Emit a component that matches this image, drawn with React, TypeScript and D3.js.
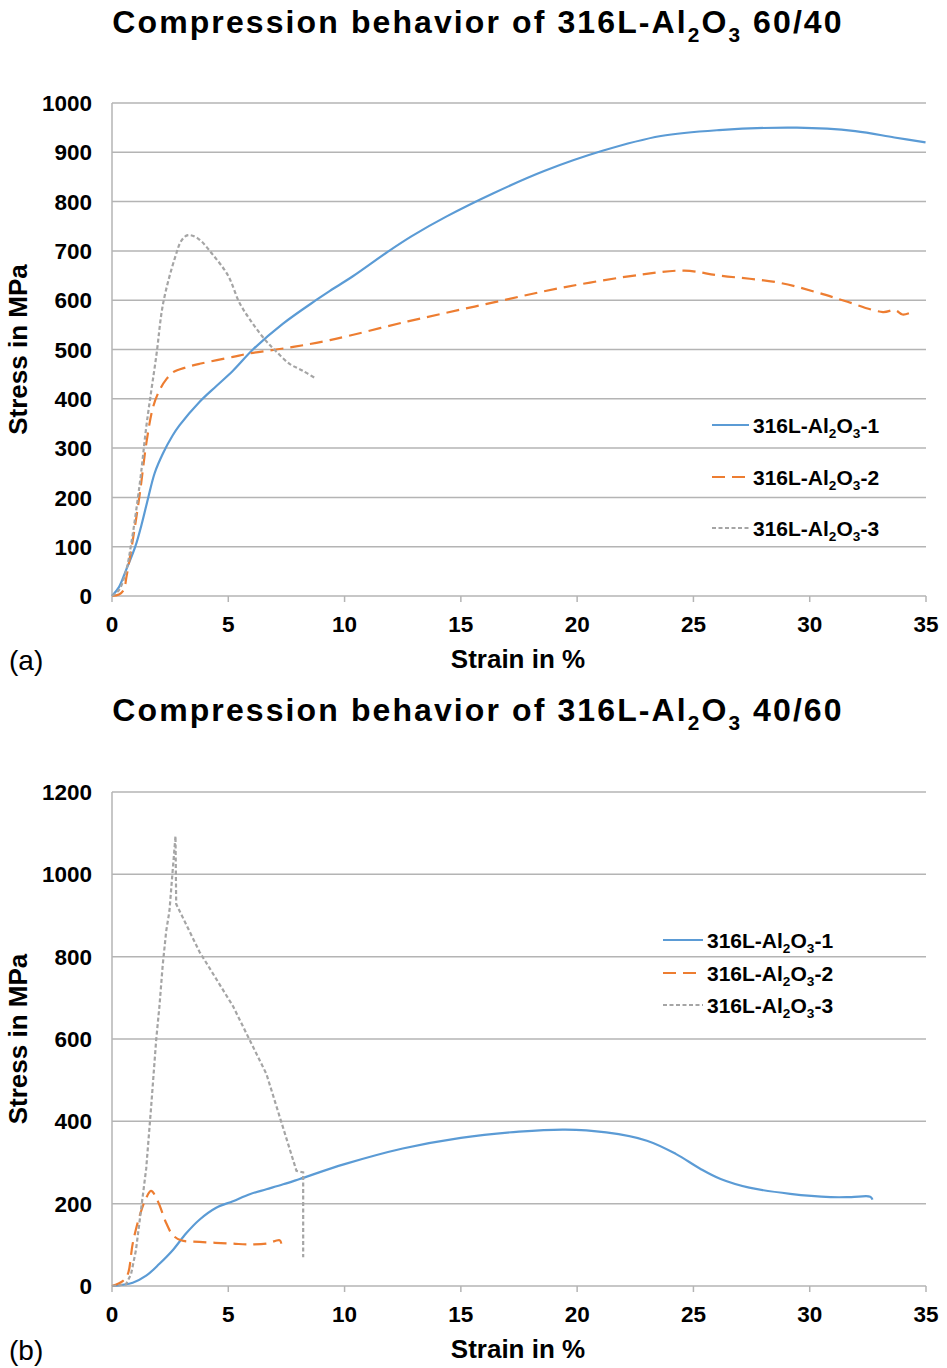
import React from "react";
import * as d3 from "d3";

// ---------- Data: panel (a) 316L-Al2O3 60/40 ----------
const aS1x = [0, 0.3, 0.6, 1.0, 1.3, 1.56, 1.84, 2.2, 2.6, 2.9, 3.77, 4.49, 5.2, 6.06, 7.34, 8.77, 9.37, 10.34, 11.88, 12.89, 14.39, 16.4, 18.58, 21.09, 23.6, 26.1, 29.45, 31.96, 33.64, 34.98];
const aS1y = [0, 18, 52, 100, 150, 200, 250, 290, 325, 346, 394, 426, 457, 500, 552, 600, 619, 648, 699, 730, 770, 817, 862, 903, 933, 945, 950, 943, 930, 920];

const aS2x = [0, 0.3, 0.5, 0.63, 0.91, 1.2, 1.49, 1.77, 2.06, 2.34, 2.63, 3.2, 3.77, 5.2, 5.91, 7.5, 9.37, 12.72, 16.07, 19.42, 22.77, 24.61, 26.12, 28.63, 30.3, 31.48, 33.15, 33.66, 33.99, 34.3];
const aS2y = [0, 3, 12, 41, 118, 209, 314, 384, 419, 440, 454, 464, 471, 485, 492, 503, 519, 557, 592, 626, 652, 660, 650, 636, 616, 599, 576, 580, 571, 574];

const aS3x = [0, 0.3, 0.6, 0.84, 1.2, 1.49, 1.91, 2.2, 2.7, 3.0, 3.27, 3.7, 4.34, 4.99, 5.49, 6.06, 6.63, 7.06, 7.63, 8.2, 8.7];
const aS3y = [0, 12, 50, 110, 230, 349, 489, 594, 685, 722, 732, 725, 692, 650, 594, 552, 517, 496, 471, 457, 443];

// ---------- Data: panel (b) 316L-Al2O3 40/60 ----------
const bS1x = [0, 0.89, 1.47, 2.04, 2.61, 3.19, 3.76, 4.48, 5.2, 5.92, 6.64, 7.36, 8.07, 10, 12.5, 15, 17.5, 19.49, 21.25, 23.0, 24.24, 25.29, 26.17, 27.4, 29.16, 30.9, 31.79, 32.6, 32.7];
const bS1y = [0, 8, 25, 54, 87, 128, 161, 190, 206, 223, 235, 247, 260, 296, 334, 360, 375, 380, 373, 353, 321, 285, 260, 239, 224, 216, 216, 217, 210];

const bS2x = [0, 0.46, 0.68, 0.89, 1.18, 1.47, 1.68, 1.97, 2.33, 2.61, 2.97, 3.76, 5.2, 5.78, 6.64, 7.21, 7.28];
const bS2y = [0, 12, 29, 103, 169, 214, 231, 206, 153, 124, 111, 107, 103, 101, 103, 111, 103];

const bS3x = [0, 0.6, 0.82, 1.03, 1.25, 1.47, 1.68, 1.9, 2.04, 2.18, 2.33, 2.47, 2.61, 2.73, 2.76, 3.76, 5.2, 6.64, 7.93, 8.22, 8.22];
const bS3y = [0, 4, 29, 87, 186, 285, 433, 598, 680, 779, 862, 911, 1010, 1093, 928, 812, 680, 515, 280, 276, 70];

const xTicks = [0, 5, 10, 15, 20, 25, 30, 35];
const aYTicks = [0, 100, 200, 300, 400, 500, 600, 700, 800, 900, 1000];
const bYTicks = [0, 200, 400, 600, 800, 1000, 1200];
const seriesSuffix = ["1", "2", "3"];
const titles = ["60/40", "40/60"];
const panelLabels = ["(a)", "(b)"];

const COLORS = ["#5B9BD5", "#ED7D31", "#A5A5A5"];
const DASH = ["none", "13 7", "4 2.5"];
const FONT = "'Liberation Sans', Arial, sans-serif";
const GRID = "#B4B4B4";

type SeriesDef = { x: number[]; y: number[]; linear?: boolean };

function AlLabel({ prefix, suffix, size }: { prefix: string; suffix: string; size: number }) {
  const sub = size * 0.65;
  const d = size * 0.28;
  return (
    <>
      <tspan>{prefix}</tspan>
      <tspan dy={d} fontSize={sub}>2</tspan>
      <tspan dy={-d}>O</tspan>
      <tspan dy={d} fontSize={sub}>3</tspan>
      <tspan dy={-d}>{suffix}</tspan>
    </>
  );
}

function Panel({
  top, plotTop, plotBottom, yMax, yTicks, series, title, label, legend,
}: {
  top: number; plotTop: number; plotBottom: number; yMax: number; yTicks: number[];
  series: SeriesDef[]; title: string; label: string;
  legend: { x0: number; x1: number; tx: number; ys: number[] };
}) {
  const x = d3.scaleLinear().domain([0, 35]).range([112, 926]);
  const y = d3.scaleLinear().domain([0, yMax]).range([plotBottom, plotTop]);
  const mk = (s: SeriesDef) =>
    d3.line<number>()
      .x((_, i) => x(s.x[i]))
      .y((v) => y(v))
      .curve(s.linear ? d3.curveLinear : d3.curveCatmullRom.alpha(0.5))(s.y) || "";
  return (
    <g>
      <text x={478} y={top} textAnchor="middle" fontFamily={FONT} fontWeight="bold" fontSize={32} letterSpacing={2.1} fill="#000">
        <AlLabel prefix="Compression behavior of 316L-Al" suffix={" " + title} size={32} />
      </text>
      {yTicks.map((t) => (
        <line key={t} x1={112} x2={926} y1={y(t)} y2={y(t)} stroke={GRID} strokeWidth={1.5} />
      ))}
      <line x1={112} x2={112} y1={plotTop} y2={plotBottom} stroke={GRID} strokeWidth={1.5} />
      {xTicks.map((t) => (
        <line key={t} x1={x(t)} x2={x(t)} y1={plotBottom} y2={plotBottom + 6} stroke={GRID} strokeWidth={1.5} />
      ))}
      {yTicks.map((t) => (
        <text key={t} x={92} y={y(t)} dy="0.36em" textAnchor="end" fontFamily={FONT} fontWeight="bold" fontSize={22.5} fill="#000">{t}</text>
      ))}
      {xTicks.map((t) => (
        <text key={t} x={x(t)} y={plotBottom + 28} dy="0.36em" textAnchor="middle" fontFamily={FONT} fontWeight="bold" fontSize={22.5} fill="#000">{t}</text>
      ))}
      <text transform={`translate(27,${(plotTop + plotBottom) / 2}) rotate(-90)`} textAnchor="middle" fontFamily={FONT} fontWeight="bold" fontSize={26} fill="#000">Stress in MPa</text>
      <text x={518} y={plotBottom + 63} dy="0.36em" textAnchor="middle" fontFamily={FONT} fontWeight="bold" fontSize={26} fill="#000">Strain in %</text>
      <text x={9} y={plotBottom + 64} dy="0.36em" fontFamily={FONT} fontSize={28} fill="#000">{label}</text>
      {series.map((s, i) => (
        <path key={i} d={mk(s)} fill="none" stroke={COLORS[i]} strokeWidth={2.2} strokeDasharray={DASH[i]} />
      ))}
      {seriesSuffix.map((suf, i) => (
        <g key={suf}>
          <line x1={legend.x0} x2={legend.x1} y1={legend.ys[i]} y2={legend.ys[i]} stroke={COLORS[i]} strokeWidth={2.2} strokeDasharray={DASH[i]} />
          <text x={legend.tx} y={legend.ys[i]} dy="0.36em" fontFamily={FONT} fontWeight="bold" fontSize={21} fill="#000">
            <AlLabel prefix="316L-Al" suffix={"-" + suf} size={21} />
          </text>
        </g>
      ))}
    </g>
  );
}

export default function App() {
  return (
    <svg width={947} height={1368} style={{ position: "absolute", left: 0, top: 0, background: "#fff" }}>
      <rect x={0} y={0} width={947} height={1368} fill="#fff" />
      <Panel
        top={33} plotTop={103} plotBottom={596} yMax={1000} yTicks={aYTicks}
        series={[{ x: aS1x, y: aS1y }, { x: aS2x, y: aS2y }, { x: aS3x, y: aS3y }]}
        title={titles[0]} label={panelLabels[0]}
        legend={{ x0: 712, x1: 749, tx: 753, ys: [425, 477, 528] }}
      />
      <Panel
        top={721} plotTop={792} plotBottom={1286} yMax={1200} yTicks={bYTicks}
        series={[{ x: bS1x, y: bS1y }, { x: bS2x, y: bS2y }, { x: bS3x, y: bS3y, linear: true }]}
        title={titles[1]} label={panelLabels[1]}
        legend={{ x0: 663, x1: 703, tx: 707, ys: [940, 973, 1005] }}
      />
    </svg>
  );
}
